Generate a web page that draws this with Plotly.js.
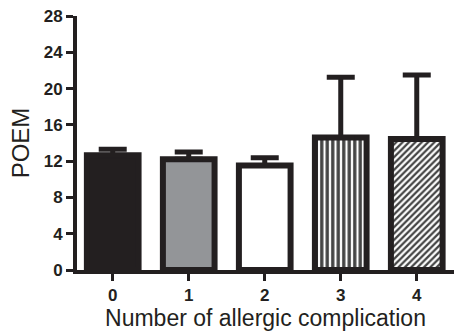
<!DOCTYPE html>
<html>
<head>
<meta charset="utf-8">
<script src="https://cdn.plot.ly/plotly-3.0.1.min.js"></script>
<style>
html,body{margin:0;padding:0;background:#fff;}
#chart{width:454px;height:331px;}
</style>
</head>
<body>
<div id="chart"></div>
<script>
var categories = ['0', '1', '2', '3', '4'];
var poemMean = [12.65, 12.2, 11.53, 14.6, 14.45];
var poemErrUp = [0.65, 0.8, 0.85, 6.65, 7.05];
var barFill = ['#231f20', '#939598', '#ffffff', '#ffffff', '#ffffff'];
var barPattern = ['', '', '', '|', '/'];
var yTicks = [0, 4, 8, 12, 16, 20, 24, 28];

var ink = '#231f20';

var trace = {
  type: 'bar',
  x: categories,
  y: poemMean,
  width: 0.68,
  marker: {
    color: barFill,
    line: {color: ink, width: 6},
    pattern: {
      shape: barPattern,
      fgcolor: ink,
      bgcolor: '#ffffff',
      fgopacity: 1,
      size: [8, 8, 8, 5.5, 4.5],
      solidity: [0.3, 0.3, 0.3, 0.6, 0.5],
      fillmode: 'overlay'
    }
  },
  error_y: {
    type: 'data',
    symmetric: false,
    array: poemErrUp,
    arrayminus: poemErrUp.map(function(){return 0;}),
    color: ink,
    thickness: 5,
    width: 14
  },
  hoverinfo: 'none'
};

var layout = {
  width: 454,
  height: 331,
  margin: {l: 77, r: 0, t: 16, b: 61},
  paper_bgcolor: '#ffffff',
  plot_bgcolor: '#ffffff',
  showlegend: false,
  font: {family: '"Liberation Sans", Arial, sans-serif', color: ink},
  xaxis: {
    type: 'category',
    range: [-0.47, 4.49],
    showline: true,
    linecolor: ink,
    linewidth: 4,
    ticks: 'outside',
    ticklen: 7,
    tickwidth: 3,
    tickcolor: ink,
    showgrid: false,
    zeroline: false,
    tickfont: {family: '"Liberation Sans", Arial, sans-serif', size: 17, color: ink, weight: 'bold'},
    title: {text: 'Number of allergic complication', font: {size: 23, color: ink}, standoff: 5}
  },
  yaxis: {
    range: [0, 28],
    tickvals: yTicks,
    ticktext: yTicks.map(String),
    showline: true,
    linecolor: ink,
    linewidth: 4,
    ticks: 'outside',
    ticklen: 7,
    tickwidth: 3,
    tickcolor: ink,
    showgrid: false,
    zeroline: false,
    tickfont: {family: '"Liberation Sans", Arial, sans-serif', size: 17, color: ink, weight: 'bold'},
    title: {text: 'POEM', font: {size: 24, color: ink}, standoff: 8}
  }
};

Plotly.newPlot('chart', [trace], layout, {displayModeBar: false, staticPlot: true});
</script>
</body>
</html>
